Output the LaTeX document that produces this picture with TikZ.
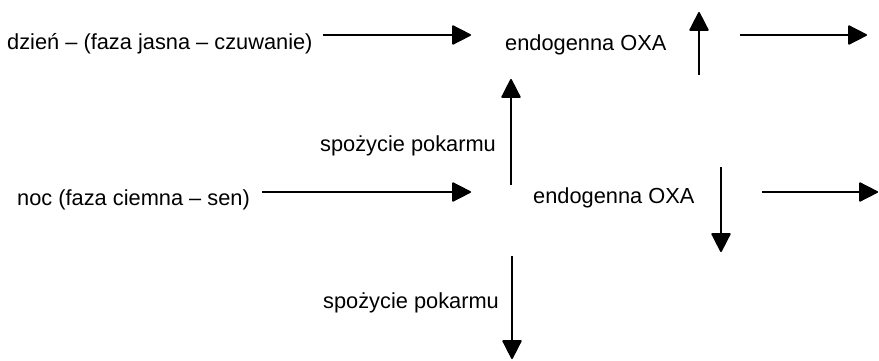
\documentclass[tikz,border=0pt]{standalone}
\usepackage{fontspec}
\setmainfont{Liberation Sans}
\usetikzlibrary{arrows.meta}
\begin{document}
\begin{tikzpicture}[x=1pt,y=-1pt,
  lbl/.style={anchor=base west,inner sep=0pt,font=\fontsize{21.8pt}{24pt}\selectfont},
  arr/.style={line width=1.8pt,-{Triangle[length=20pt,width=20pt,round]}}]
\useasboundingbox (0,0) rectangle (879,361);
\node[lbl] (dzien) at (7,50) {dzień – (faza jasna – czuwanie)};
\node[lbl] (endo1) at (505,51) {endogenna OXA};
\node[lbl] (spoz1) at (320,151) {spożycie pokarmu};
\node[lbl] (noc) at (17,205) {noc (faza ciemna – sen)};
\node[lbl] (endo2) at (533,203) {endogenna OXA};
\node[lbl] (spoz2) at (323,308) {spożycie pokarmu};
\coordinate (a1s) at (323,35); \coordinate (a1e) at (471,35);
\coordinate (a2s) at (699,75); \coordinate (a2e) at (699,12);
\coordinate (a3s) at (740,35); \coordinate (a3e) at (867,35);
\coordinate (a4s) at (511,185); \coordinate (a4e) at (511,79);
\coordinate (a5s) at (262,192); \coordinate (a5e) at (471,192);
\coordinate (a6s) at (721,167); \coordinate (a6e) at (721,252);
\coordinate (a7s) at (762,192); \coordinate (a7e) at (878,192);
\coordinate (a8s) at (512,256); \coordinate (a8e) at (512,359);
\draw[arr] (a1s) -- (a1e);
\draw[arr] (a2s) -- (a2e);
\draw[arr] (a3s) -- (a3e);
\draw[arr] (a4s) -- (a4e);
\draw[arr] (a5s) -- (a5e);
\draw[arr] (a6s) -- (a6e);
\draw[arr] (a7s) -- (a7e);
\draw[arr] (a8s) -- (a8e);
\end{tikzpicture}
\end{document}
